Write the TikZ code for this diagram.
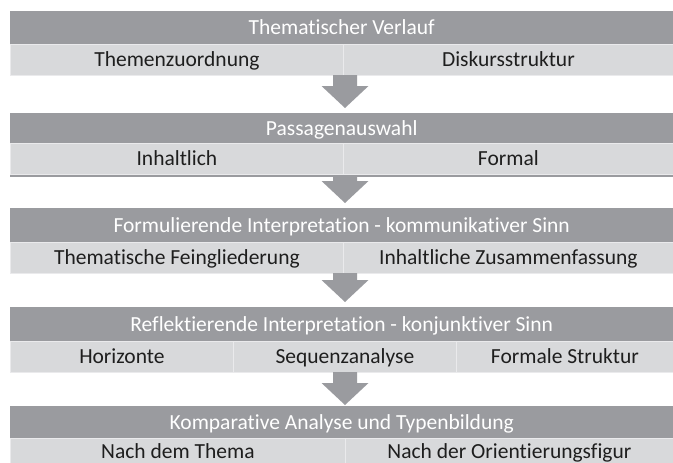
\documentclass[tikz,border=0pt]{standalone}
\usepackage{fontspec}
\setmainfont{Carlito}[Ligatures={NoCommon}]
\usetikzlibrary{calc}
\definecolor{dk}{RGB}{154,155,159}
\definecolor{lt}{RGB}{216,217,219}
\definecolor{sep}{RGB}{234,234,236}
\definecolor{txt}{RGB}{30,30,30}
\newcommand\blockarrow[2]{\fill[dk] let \p1=(#1), \p2=(#2) in
  (\x1-12pt,\y1) -- (\x1+12pt,\y1) -- (\x1+12pt,\y2+22pt) -- (\x1+23.5pt,\y2+22pt)
  -- (\x1,\y2) -- (\x1-23.5pt,\y2+22pt) -- (\x1-12pt,\y2+22pt) -- cycle;}
\begin{document}
\begin{tikzpicture}[x=1pt,y=-1pt,
  headbar/.style={fill=dk, inner sep=0pt, anchor=north west, text=white,
    font=\fontsize{21.5}{24}\selectfont, text height=14pt, text depth=0pt,
    minimum width=663pt},
  subcell/.style={fill=lt, draw=sep, line width=0.8pt, inner sep=0pt, anchor=north west,
    text=txt, font=\fontsize{21.5}{24}\selectfont, text height=14pt, text depth=0pt}]
\useasboundingbox (0,0) rectangle (673,463);
\fill[white] (0,0) rectangle (673,463);
% bar 1
\node[headbar, minimum height=33pt] (h1) at (10,11) {Thematischer Verlauf};
\node[subcell, minimum width=333pt, minimum height=31pt] (s11) at (10,44) {Themenzuordnung};
\node[subcell, minimum width=330pt, minimum height=31pt] (s12) at (343,44) {Diskursstruktur};
% bar 2
\fill[dk] (10,143) rectangle (673,177);
\node[headbar, minimum height=30pt] (h2) at (10,113) {Passagenauswahl};
\node[subcell, minimum width=333pt, minimum height=31pt] (s21) at (10,143) {Inhaltlich};
\node[subcell, minimum width=330pt, minimum height=31pt] (s22) at (343,143) {Formal};
% bar 3
\node[headbar, minimum height=34pt] (h3) at (10,208) {Formulierende Interpretation - kommunikativer Sinn};
\node[subcell, minimum width=333pt, minimum height=31pt] (s31) at (10,242) {Thematische Feingliederung};
\node[subcell, minimum width=330pt, minimum height=31pt] (s32) at (343,242) {Inhaltliche Zusammenfassung};
% bar 4
\node[headbar, minimum height=34pt] (h4) at (10,307) {Reflektierende Interpretation - konjunktiver Sinn};
\node[subcell, minimum width=223pt, minimum height=31pt] (s41) at (10,341) {Horizonte};
\node[subcell, minimum width=223pt, minimum height=31pt] (s42) at (233,341) {Sequenzanalyse};
\node[subcell, minimum width=217pt, minimum height=31pt] (s43) at (456,341) {Formale Struktur};
% bar 5
\node[headbar, minimum height=32pt] (h5) at (10,406) {Komparative Analyse und Typenbildung};
\node[subcell, minimum width=335pt, minimum height=27pt] (s51) at (10,438) {Nach dem Thema};
\node[subcell, minimum width=328pt, minimum height=27pt] (s52) at (345,438) {Nach der Orientierungsfigur};
% arrows
\coordinate (a1s) at (345,75);  \coordinate (a1e) at (345,108);
\coordinate (a2s) at (345,177); \coordinate (a2e) at (345,203);
\coordinate (a3s) at (345,273); \coordinate (a3e) at (345,302);
\coordinate (a4s) at (345,372); \coordinate (a4e) at (345,405);
\blockarrow{a1s}{a1e}
\blockarrow{a2s}{a2e}
\blockarrow{a3s}{a3e}
\blockarrow{a4s}{a4e}
\end{tikzpicture}
\end{document}
